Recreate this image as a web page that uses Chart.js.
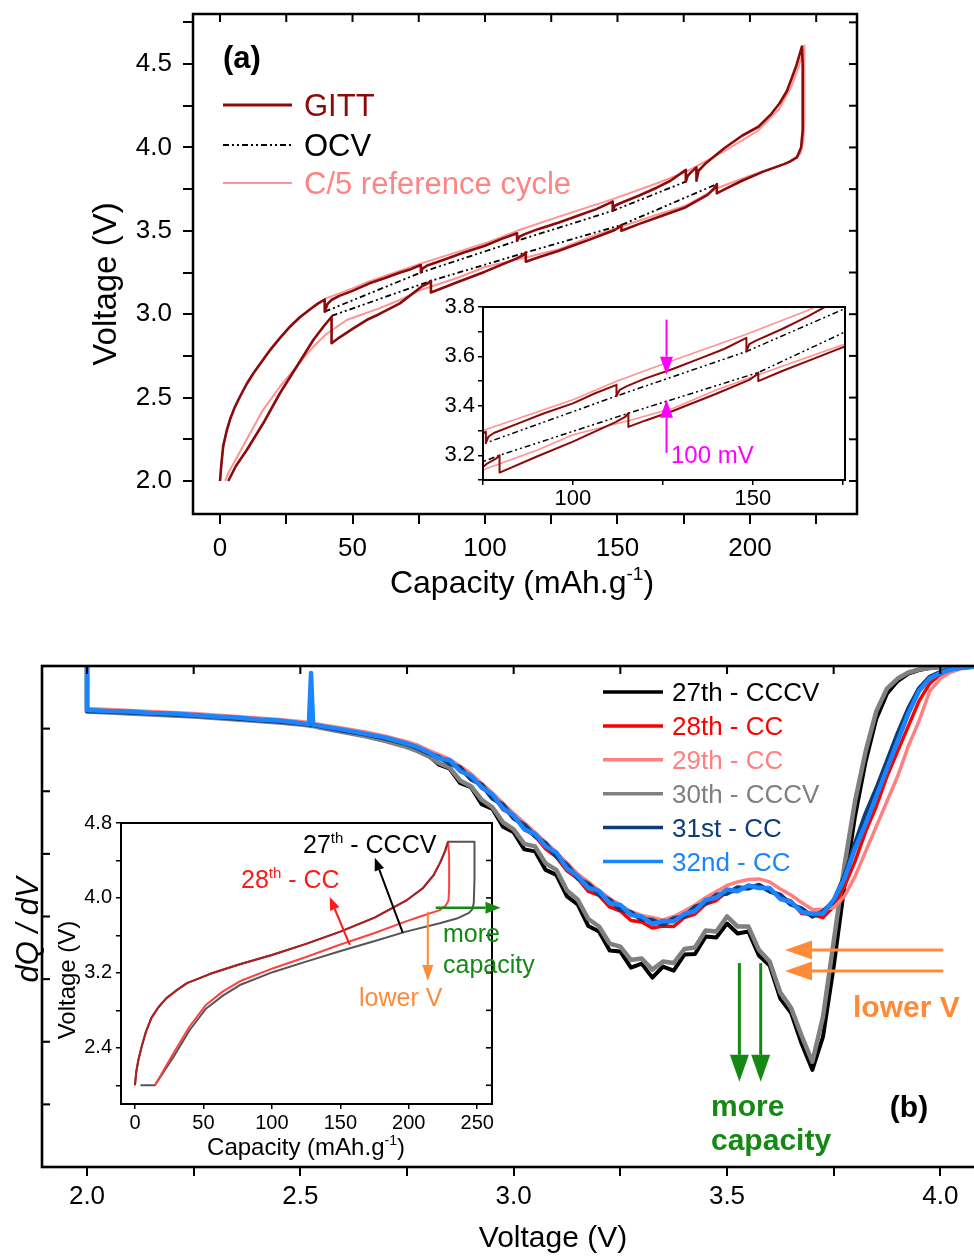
<!DOCTYPE html>
<html>
<head>
<meta charset="utf-8">
<title>GITT and dQ/dV</title>
<script src="https://cdn.jsdelivr.net/npm/chart.js@4.4.1/dist/chart.umd.min.js"></script>
<style>
  html, body { margin: 0; padding: 0; background: #fff; overflow: hidden; }
  #page { position: relative; width: 974px; height: 1256px; overflow: hidden; background: #fff; }
  canvas { position: absolute; left: 0; top: 0; }
</style>
</head>
<body>
<div id="page">
  <canvas id="gittMain" width="974" height="620"></canvas>
  <canvas id="gittZoom" width="974" height="620"></canvas>
  <canvas id="dqdvMain" width="1000" height="1256"></canvas>
  <canvas id="dqdvInset" width="1000" height="1256"></canvas>
</div>
<script>
// ---------- panel (a): GITT, OCV and C/5 voltage profiles ----------
const gittCap = [
  0, 0.5, 1.2, 2.5, 3.8, 5.5, 7.5, 10, 12.6, 15.5, 18.9, 22.5, 26.4, 30, 34, 37, 39.5,
  39.5, 40.5, 42, 45, 50, 56.4, 62, 68, 72, 75.8,
  75.8, 76.5, 78, 85, 92, 100, 106, 112.1,
  112.1, 113, 115, 120, 127.9, 135, 142, 148.2,
  148.2, 149, 151, 158, 165, 170, 175.8,
  175.8, 176.5, 178, 179.8,
  179.8, 180.6, 183, 190.3, 197, 203.2, 208, 211.2, 214, 216, 217.5, 218.5, 219.6,
  219.9, 220, 219.8, 219.3, 217.7, 215, 212.9, 205, 197, 190, 187.5,
  187.5, 186.5, 184, 175.6, 165, 158, 151.5,
  151.5, 150.5, 149, 140, 127.9, 120, 115.4,
  115.4, 114.5, 112, 100, 90, 79.6,
  79.6, 78.5, 76, 67.9, 60, 55.3, 50.3, 45, 42.1,
  42.1, 39, 35.2, 28.9, 22.6, 16.3, 10.1, 6, 3.1
];
const gittV = [
  2.0, 2.1, 2.21, 2.3, 2.37, 2.44, 2.505, 2.58, 2.646, 2.71, 2.785, 2.855, 2.925, 2.98, 3.03, 3.065, 3.088,
  3.015, 3.06, 3.085, 3.11, 3.14, 3.185, 3.215, 3.25, 3.27, 3.295,
  3.25, 3.275, 3.29, 3.33, 3.37, 3.41, 3.45, 3.485,
  3.44, 3.465, 3.48, 3.51, 3.55, 3.59, 3.63, 3.675,
  3.62, 3.65, 3.665, 3.71, 3.76, 3.80, 3.865,
  3.795, 3.83, 3.855, 3.88,
  3.80, 3.86, 3.90, 3.995, 4.07, 4.124, 4.2, 4.265, 4.34, 4.425, 4.49, 4.545, 4.605,
  4.5, 4.3, 4.1, 4.0, 3.94, 3.915, 3.90, 3.855, 3.80, 3.745, 3.725,
  3.78, 3.755, 3.715, 3.64, 3.58, 3.54, 3.50,
  3.535, 3.52, 3.505, 3.45, 3.38, 3.34, 3.315,
  3.37, 3.355, 3.335, 3.255, 3.195, 3.13,
  3.20, 3.185, 3.165, 3.065, 3.0, 2.965, 2.915, 2.86, 2.826,
  2.985, 2.925, 2.845, 2.685, 2.526, 2.346, 2.186, 2.09, 2.0
];
const c5Cap = [
  0, 0.6, 1.4, 2.6, 4, 5.8, 7.8, 10.3, 13, 16, 19.3, 23, 27, 31, 35, 40, 45, 50, 56, 65,
  76, 90, 100, 112.1, 127.9, 148.2, 165, 176, 190, 203, 211, 215.5, 218.3, 219.8, 220.4,
  220.6, 220.5, 220.2, 219, 216, 210, 200, 190, 187.5, 175.6, 163.8, 151.5, 140, 127.9, 115.4,
  100, 90, 76, 67.9, 60, 47.8, 40, 35.2, 28, 22.6, 16, 10.1, 6, 3.5, 1.9
];
const c5V = [
  2.0, 2.12, 2.22, 2.31, 2.38, 2.45, 2.515, 2.59, 2.655, 2.72, 2.795, 2.865, 2.935, 2.99, 3.04, 3.095, 3.125, 3.155, 3.195, 3.245,
  3.305, 3.375, 3.425, 3.5, 3.585, 3.69, 3.785, 3.855, 3.975, 4.1, 4.23, 4.36, 4.48, 4.56, 4.61,
  4.4, 4.15, 4.04, 3.96, 3.92, 3.885, 3.83, 3.77, 3.755, 3.65, 3.59, 3.526, 3.465, 3.39, 3.34,
  3.283, 3.22, 3.147, 3.085, 3.035, 2.965, 2.88, 2.805, 2.67, 2.565, 2.42, 2.25, 2.13, 2.06, 2.0
];
const ocvChargeCap = [39.5, 75.8, 112.1, 148.2, 175.8];
const ocvChargeV = [3.015, 3.25, 3.44, 3.62, 3.795];
const ocvDischargeCap = [42.1, 79.6, 115.4, 151.5, 187.5];
const ocvDischargeV = [2.99, 3.20, 3.37, 3.535, 3.78];

const capTicksA = [0, 25, 50, 75, 100, 125, 150, 175, 200, 225];
const capLabelsA = [0, 50, 100, 150, 200];
const voltTicksA = [2.0, 2.25, 2.5, 2.75, 3.0, 3.25, 3.5, 3.75, 4.0, 4.25, 4.5, 4.75];
const voltLabelsA = [2.0, 2.5, 3.0, 3.5, 4.0, 4.5];
const zoomCapTicks = [75, 100, 125, 150, 175];
const zoomCapLabels = [100, 150];
const zoomVoltTicks = [3.1, 3.2, 3.3, 3.4, 3.5, 3.6, 3.7, 3.8];
const zoomVoltLabels = [3.2, 3.4, 3.6, 3.8];

// ---------- panel (b): dQ/dV of cycles 27 to 32 ----------
const dqdvVolts = [
  2.0, 2.0, 2.05, 2.1, 2.15, 2.2, 2.25, 2.3, 2.35, 2.4, 2.45, 2.5, 2.52, 2.525, 2.53, 2.55, 2.6, 2.65, 2.7, 2.75, 2.775,
  2.8, 2.825, 2.85, 2.875, 2.9, 2.925, 2.95, 2.975,
  3.0, 3.025, 3.05, 3.075, 3.1, 3.125, 3.15, 3.175,
  3.2, 3.225, 3.25, 3.275, 3.3, 3.325, 3.35, 3.375,
  3.4, 3.425, 3.45, 3.475, 3.5, 3.525, 3.55, 3.575,
  3.6, 3.625, 3.65, 3.675, 3.7, 3.725, 3.75, 3.775,
  3.8, 3.825, 3.85, 3.875, 3.9, 3.925, 3.95, 3.975,
  4.0, 4.025, 4.05, 4.1
];
const dqdv27 = [
  104, 91.0, 90.8, 90.6, 90.4, 90.2, 90.0, 89.7, 89.4, 89.1, 88.8, 88.4, 88.2, 88.1, 88.1, 87.7, 86.9, 86.1, 85.2, 84.0, 83.2,
  82.2, 80.3, 79.5, 76.6, 75.8, 72.4, 71.5, 67.9,
  66.8, 63.4, 63.0, 59.3, 58.3, 54.0, 52.4, 48.1,
  47.0, 43.2, 43.0, 39.8, 40.6, 37.8, 40.0, 39.2,
  42.4, 42.5, 46.0, 45.8, 48.6, 46.6, 47.0, 42.2,
  40.2, 33.6, 30.8, 24.6, 19.4, 26.0, 40.0, 56.0,
  70.0, 81.0, 89.5, 94.5, 97.0, 98.5, 99.2, 99.6,
  99.8, 99.9, 100, 100
];
const dqdv28 = [
  104, 91.3, 91.1, 90.9, 90.7, 90.5, 90.3, 90.0, 89.7, 89.4, 89.1, 88.7, 88.5, 88.4, 88.4, 88.1, 87.4, 86.7, 85.8, 84.7, 84.0,
  83.0, 81.9, 81.2, 79.3, 78.3, 75.6, 74.4, 71.3,
  70.3, 67.4, 66.1, 63.5, 61.9, 59.1, 57.6, 55.0,
  54.2, 51.9, 51.1, 49.2, 48.9, 47.7, 48.1, 48.0,
  49.8, 50.5, 52.5, 53.2, 55.0, 55.0, 56.2, 55.7,
  55.6, 53.7, 53.1, 50.6, 50.4, 49.8, 52.0, 56.0,
  61.0, 67.0, 72.0, 78.0, 83.0, 88.0, 93.0, 96.5,
  98.3, 99.2, 99.6, 100
];
const dqdv29 = [
  104, 91.5, 91.3, 91.1, 90.9, 90.7, 90.5, 90.2, 89.9, 89.6, 89.3, 88.9, 88.7, 88.6, 88.6, 88.3, 87.6, 86.9, 86.0, 84.9, 84.2,
  83.2, 82.3, 81.4, 80.0, 78.5, 76.6, 74.7, 72.6,
  70.6, 68.7, 66.8, 64.8, 62.8, 60.7, 58.5, 56.9,
  55.2, 53.6, 52.3, 51.0, 50.2, 49.8, 49.3, 50.0,
  51.1, 52.3, 53.8, 55.0, 56.2, 56.9, 57.4, 57.5,
  56.9, 55.5, 54.3, 52.8, 51.4, 51.4, 51.8, 54.0,
  58.0, 63.0, 68.0, 73.0, 78.0, 84.0, 89.0, 95.0,
  97.5, 98.8, 99.5, 100
];
const dqdv30 = [
  104, 90.9, 90.7, 90.5, 90.3, 90.1, 89.9, 89.6, 89.3, 89.0, 88.7, 88.3, 88.1, 88.0, 88.0, 87.6, 86.8, 86.0, 85.0, 83.8, 83.0,
  82.0, 80.6, 79.7, 77.1, 76.0, 73.3, 71.8, 68.8,
  67.4, 64.5, 64.0, 60.6, 59.3, 55.2, 53.4, 49.5,
  48.0, 44.6, 44.0, 41.3, 41.6, 39.4, 41.0, 40.7,
  43.5, 43.8, 47.2, 47.0, 50.0, 48.0, 48.0, 43.3,
  41.0, 34.8, 31.8, 26.2, 21.0, 30.0, 45.0, 60.0,
  73.0, 83.0, 91.0, 95.5, 97.5, 98.7, 99.3, 99.6,
  99.8, 99.9, 100, 100
];
const dqdv31 = [
  104, 91.0, 90.9, 90.7, 90.5, 90.3, 90.1, 89.8, 89.5, 89.2, 88.9, 88.5, 88.3, 88.2, 88.2, 87.9, 87.1, 86.4, 85.5, 84.4, 83.6,
  82.6, 81.8, 80.5, 79.7, 77.4, 76.3, 73.6, 72.3,
  69.6, 68.3, 66.0, 64.6, 62.0, 60.3, 57.6, 56.5,
  54.4, 53.3, 51.4, 50.8, 49.4, 49.3, 48.4, 49.6,
  50.0, 51.9, 52.6, 54.3, 54.6, 55.8, 55.6, 56.3,
  55.0, 54.3, 52.4, 51.6, 50.0, 51.0, 53.0, 58.0,
  64.5, 70.5, 75.5, 81.0, 86.5, 91.5, 95.5, 97.8,
  98.8, 99.4, 99.7, 100
];
const dqdv32 = [
  104, 91.2, 91.0, 90.9, 90.6, 90.5, 90.2, 89.9, 89.7, 89.3, 89.1, 88.6, 88.4, 98.6, 88.3, 88.0, 87.3, 86.5, 85.7, 84.5, 83.8,
  82.8, 81.6, 81.2, 79.0, 78.1, 75.8, 74.4, 71.6,
  70.2, 67.4, 66.5, 64.0, 62.8, 59.6, 58.1, 55.7,
  55.1, 52.7, 52.3, 50.3, 50.0, 48.5, 49.1, 49.0,
  50.5, 51.1, 53.3, 53.8, 55.4, 55.1, 56.2, 55.7,
  55.7, 53.5, 52.9, 50.9, 50.6, 50.6, 53.3, 57.5,
  63.5, 68.5, 74.0, 79.5, 85.0, 90.5, 95.0, 97.5,
  98.6, 99.3, 99.7, 100
];
const dqdvVoltTicks = [2.0, 2.25, 2.5, 2.75, 3.0, 3.25, 3.5, 3.75, 4.0];
const dqdvVoltLabels = [2.0, 2.5, 3.0, 3.5, 4.0];
const dqdvTicks = [0, 12.5, 25, 37.5, 50, 62.5, 75, 87.5, 100];

// inset (b): cycle 27 (CCCV) vs cycle 28 (CC)
const chargeCap = [0, 1, 2.5, 5, 8, 12, 17, 23, 30, 38, 45, 55, 76, 100, 125, 150, 175, 198, 210, 218, 223, 226.5, 228.7];
const chargeV = [2.0, 2.15, 2.27, 2.42, 2.57, 2.72, 2.83, 2.93, 3.01, 3.09, 3.13, 3.19, 3.29, 3.39, 3.51, 3.64, 3.79, 3.97, 4.10, 4.24, 4.38, 4.5, 4.6];
const cccvTailCap = [232, 248, 248, 247.5, 246.5, 244, 235, 222.6, 198, 174, 149.6, 125, 101, 76.6, 64.5, 52, 40, 28, 14.6, 4];
const cccvTailV = [4.6, 4.6, 4.2, 3.95, 3.88, 3.84, 3.78, 3.73, 3.64, 3.535, 3.43, 3.32, 3.21, 3.07, 2.96, 2.82, 2.59, 2.30, 2.0, 2.0];
const ccTailCap = [228.7, 229.5, 229.5, 229, 227, 222.6, 210, 198, 174, 149.6, 125, 101, 76.6, 64, 52, 40, 28, 14.6];
const ccTailV = [4.6, 4.45, 4.1, 3.97, 3.92, 3.87, 3.81, 3.75, 3.62, 3.50, 3.37, 3.25, 3.11, 3.0, 2.86, 2.63, 2.34, 2.0];
const insetCapTicks = [0, 50, 100, 150, 200, 250];
const insetVoltTicks = [2.0, 2.4, 2.8, 3.2, 3.6, 4.0, 4.4, 4.8];
const insetVoltLabels = [2.4, 3.2, 4.0, 4.8];

// ---------- colours and fonts ----------
const SANS = '"Liberation Sans", Arial, Helvetica, sans-serif';
const GITT_RED = '#8b0a0a';
const C5_PINK = '#ff9494';
const C5_TEXT = '#ff8585';
const OCV_DASH = [6, 3, 2, 3, 2, 3];
const MAGENTA = '#ff00ff';
const ORANGE = '#ff8a38';
const GREEN = '#148a14';
const CYCLE_COLORS = ['#000000', '#ff0000', '#ff8080', '#808080', '#0b3d7a', '#1a85ff'];

function fnt(size, style) { return (style ? style + ' ' : '') + size + 'px ' + SANS; }

// text pieces: [string, isSuperscript]
function rich(ctx, parts, x, y, size, color, align, style) {
  const sup = Math.round(size * 0.6);
  let w = 0;
  parts.forEach(p => { ctx.font = fnt(p[1] ? sup : size, style); w += ctx.measureText(p[0]).width; });
  let cx = align === 'center' ? x - w / 2 : (align === 'right' ? x - w : x);
  ctx.save();
  ctx.fillStyle = color;
  ctx.textAlign = 'left';
  ctx.textBaseline = 'alphabetic';
  parts.forEach(p => {
    ctx.font = fnt(p[1] ? sup : size, style);
    ctx.fillText(p[0], cx, p[1] ? y - size * 0.42 : y);
    cx += ctx.measureText(p[0]).width;
  });
  ctx.restore();
}

function vtext(ctx, parts, x, y, size, color, style) {
  ctx.save();
  ctx.translate(x, y);
  ctx.rotate(-Math.PI / 2);
  rich(ctx, parts, 0, 0, size, color, 'center', style);
  ctx.restore();
}

function arrow(ctx, x1, y1, x2, y2, color, lw, headLen, headW) {
  const ang = Math.atan2(y2 - y1, x2 - x1);
  const bx = x2 - headLen * Math.cos(ang), by = y2 - headLen * Math.sin(ang);
  const nx = Math.sin(ang) * headW / 2, ny = Math.cos(ang) * headW / 2;
  ctx.save();
  ctx.strokeStyle = color;
  ctx.fillStyle = color;
  ctx.lineWidth = lw;
  ctx.beginPath(); ctx.moveTo(x1, y1); ctx.lineTo(bx, by); ctx.stroke();
  ctx.beginPath();
  ctx.moveTo(x2, y2);
  ctx.lineTo(bx + nx, by - ny);
  ctx.lineTo(bx - nx, by + ny);
  ctx.closePath();
  ctx.fill();
  ctx.restore();
}

function legendLine(ctx, x1, x2, y, color, lw, dash) {
  ctx.save();
  ctx.strokeStyle = color;
  ctx.lineWidth = lw;
  ctx.setLineDash(dash || []);
  ctx.beginPath(); ctx.moveTo(x1, y); ctx.lineTo(x2, y); ctx.stroke();
  ctx.restore();
}

function pts(xs, ys) { return xs.map((x, i) => ({ x: x, y: ys[i] })); }

function series(label, xs, ys, color, width, extra) {
  return Object.assign({
    label: label, data: pts(xs, ys), borderColor: color, borderWidth: width,
    pointRadius: 0, fill: false, tension: 0, borderJoinStyle: 'round'
  }, extra || {});
}

// box around the plot area plus inward tick marks on the given edges
function frame(width, inward) {
  return {
    id: 'frame',
    afterDatasetsDraw(chart) {
      const ctx = chart.ctx, a = chart.chartArea;
      ctx.save();
      ctx.strokeStyle = '#000';
      ctx.lineWidth = width;
      ctx.strokeRect(a.left, a.top, a.right - a.left, a.bottom - a.top);
      ctx.lineWidth = Math.max(1.5, width * 0.8);
      inward.forEach(([axis, edge, len]) => {
        const s = chart.scales[axis];
        s.ticks.forEach(t => {
          const p = s.getPixelForValue(t.value);
          ctx.beginPath();
          if (edge === 'top') { ctx.moveTo(p, a.top); ctx.lineTo(p, a.top + len); }
          if (edge === 'bottom') { ctx.moveTo(p, a.bottom); ctx.lineTo(p, a.bottom - len); }
          if (edge === 'left') { ctx.moveTo(a.left, p); ctx.lineTo(a.left + len, p); }
          if (edge === 'right') { ctx.moveTo(a.right, p); ctx.lineTo(a.right - len, p); }
          ctx.stroke();
        });
      });
      ctx.restore();
    }
  };
}

function notes(fn) {
  return { id: 'notes', afterDraw(chart) { fn(chart.ctx, chart.scales.x, chart.scales.y, chart); } };
}

// fixed scale size, and no extra room reserved for end labels
function fixWidth(w) { return s => { s.width = w; s.paddingTop = 0; s.paddingBottom = 0; }; }
function fixHeight(h) { return s => { s.height = h; s.paddingLeft = 0; s.paddingRight = 0; }; }

// linear axis with fixed tick list; only values in `labels` get text
function axis(min, max, tickList, labels, fmt, o) {
  return {
    type: 'linear', min: min, max: max,
    afterBuildTicks: s => { s.ticks = tickList.map(v => ({ value: v })); },
    afterFit: o.fit,
    border: { display: false },
    grid: { display: o.marks !== false, drawOnChartArea: false, drawTicks: true,
            tickLength: o.tl || 8, color: '#000', lineWidth: o.tw || 2 },
    ticks: {
      display: o.text !== false, autoSkip: false, maxRotation: 0, minRotation: 0,
      padding: o.pad || 0, color: '#000', font: { family: SANS, size: o.size || 20 },
      callback: v => (labels.indexOf(v) >= 0 ? fmt(v) : '')
    }
  };
}

const baseOpts = {
  responsive: false, animation: false, devicePixelRatio: 1,
  events: [],
  plugins: { legend: { display: false }, tooltip: { enabled: false } }
};
const oneDec = v => v.toFixed(1);
const whole = v => String(v);

// ---------- (a) main ----------
new Chart(document.getElementById('gittMain'), {
  type: 'line',
  data: { datasets: [
    series('GITT', gittCap, gittV, GITT_RED, 2.6),
    series('OCV', ocvChargeCap, ocvChargeV, '#000', 1.8, { borderDash: OCV_DASH }),
    series('OCV', ocvDischargeCap, ocvDischargeV, '#000', 1.8, { borderDash: OCV_DASH }),
    series('C/5 reference cycle', c5Cap, c5V, C5_PINK, 2)
  ]},
  options: Object.assign({}, baseOpts, {
    layout: { padding: { top: 14, right: 117, left: 0, bottom: 0 } },
    scales: {
      x: axis(-10.2, 240.4, capTicksA, capLabelsA, whole, { size: 26, tl: 10, pad: 9, fit: fixHeight(106) }),
      y: axis(1.802, 4.8, voltTicksA, voltLabelsA, oneDec, { size: 26, tl: 10, pad: 11, fit: fixWidth(193) })
    }
  }),
  plugins: [
    frame(2.5, [['x', 'top', 8], ['y', 'right', 8]]),
    notes(ctx => {
      rich(ctx, [['(a)']], 223, 68, 31, '#000', 'left', 'bold');
      legendLine(ctx, 223, 292, 105, GITT_RED, 3);
      legendLine(ctx, 223, 292, 145, '#000', 2, OCV_DASH);
      legendLine(ctx, 223, 292, 183, C5_PINK, 2);
      rich(ctx, [['GITT']], 304, 116, 31, GITT_RED, 'left');
      rich(ctx, [['OCV']], 304, 156, 31, '#000', 'left');
      rich(ctx, [['C/5 reference cycle']], 304, 194, 31, C5_TEXT, 'left');
      vtext(ctx, [['Voltage (V)']], 116, 284, 33, '#000');
      rich(ctx, [['Capacity (mAh.g'], ['-1', true], [')']], 522, 593, 32, '#000', 'center');
    })
  ]
});

// ---------- (a) zoomed inset ----------
new Chart(document.getElementById('gittZoom'), {
  type: 'line',
  data: { datasets: [
    series('GITT', gittCap, gittV, GITT_RED, 2),
    series('OCV', ocvChargeCap, ocvChargeV, '#000', 1.5, { borderDash: OCV_DASH }),
    series('OCV', ocvDischargeCap, ocvDischargeV, '#000', 1.5, { borderDash: OCV_DASH }),
    series('C/5 reference cycle', c5Cap, c5V, C5_PINK, 1.6)
  ]},
  options: Object.assign({}, baseOpts, {
    layout: { padding: { top: 307, right: 129, left: 0, bottom: 0 } },
    scales: {
      x: axis(75, 175.6, zoomCapTicks, zoomCapLabels, whole, { size: 22, tl: 5, pad: 1, tw: 1.5, fit: fixHeight(140) }),
      y: axis(3.1, 3.8, zoomVoltTicks, zoomVoltLabels, oneDec, { size: 22, tl: 5, pad: 3, tw: 1.5, fit: fixWidth(483) })
    }
  }),
  plugins: [
    frame(2, []),
    notes((ctx, x, y) => {
      arrow(ctx, x.getPixelForValue(126), y.getPixelForValue(3.749), x.getPixelForValue(126), y.getPixelForValue(3.526), MAGENTA, 2, 18, 13);
      arrow(ctx, x.getPixelForValue(126), y.getPixelForValue(3.21), x.getPixelForValue(126), y.getPixelForValue(3.425), MAGENTA, 2, 18, 13);
      rich(ctx, [['100 mV']], 671, 463, 24, MAGENTA, 'left');
    })
  ]
});

// ---------- (b) main dQ/dV ----------
const cycleNames = ['27th - CCCV', '28th - CC', '29th - CC', '30th - CCCV', '31st - CC', '32nd - CC'];
const cycleData = [dqdv27, dqdv28, dqdv29, dqdv30, dqdv31, dqdv32];
const drawOrder = [5, 3, 2, 4, 1, 0];
const cycleWidths = [4, 3.5, 3.5, 4.5, 4.5, 4.5];

new Chart(document.getElementById('dqdvMain'), {
  type: 'line',
  data: { datasets: cycleData.map((ys, i) =>
    series(cycleNames[i], dqdvVolts, ys, CYCLE_COLORS[i], cycleWidths[i], { order: drawOrder[i] })) },
  options: Object.assign({}, baseOpts, {
    layout: { padding: { top: 666, right: 17, left: 0, bottom: 0 } },
    scales: {
      x: axis(1.8945, 4.1, dqdvVoltTicks, dqdvVoltLabels, oneDec, { size: 26, tl: 9, pad: 5, fit: fixHeight(89) }),
      y: axis(0, 100, dqdvTicks, [], whole, { marks: false, text: false, fit: fixWidth(42) })
    }
  }),
  plugins: [
    frame(2.6, [['x', 'top', 8], ['y', 'left', 8]]),
    notes((ctx, x, y, chart) => {
      chart.data.datasets.forEach((d, i) => {
        const ly = 692 + i * 33.9;
        legendLine(ctx, 603, 663, ly, d.borderColor, 3.5);
        rich(ctx, [[d.label]], 672, ly + 9.3, 26, d.borderColor, 'left');
      });
      [43.3, 39.1].forEach(v =>
        arrow(ctx, x.getPixelForValue(4.007), y.getPixelForValue(v), x.getPixelForValue(3.636), y.getPixelForValue(v), ORANGE, 3, 27, 19));
      [3.529, 3.579].forEach(v =>
        arrow(ctx, x.getPixelForValue(v), y.getPixelForValue(40.7), x.getPixelForValue(v), y.getPixelForValue(17.0), GREEN, 3, 27, 19));
      rich(ctx, [['lower V']], 853, 1017, 30, ORANGE, 'left', 'bold');
      rich(ctx, [['more']], 711, 1116, 30, GREEN, 'left', 'bold');
      rich(ctx, [['capacity']], 711, 1150, 30, GREEN, 'left', 'bold');
      rich(ctx, [['(b)']], 909, 1117, 30, '#000', 'center', 'bold');
      vtext(ctx, [['dQ / dV']], 38, 930, 31, '#000', 'italic');
      rich(ctx, [['Voltage (V)']], 553, 1247, 30, '#000', 'center');
    })
  ]
});

// ---------- (b) inset: voltage profiles of cycles 27 and 28 ----------
new Chart(document.getElementById('dqdvInset'), {
  type: 'line',
  data: { datasets: [
    series('28th - CC charge', chargeCap, chargeV, '#b01e1e', 2),
    series('28th - CC discharge', ccTailCap, ccTailV, '#ff4040', 2),
    series('27th - CCCV', chargeCap.concat(cccvTailCap), chargeV.concat(cccvTailV), '#555555', 2)
  ]},
  options: Object.assign({}, baseOpts, {
    layout: { padding: { top: 823, right: 508, left: 0, bottom: 0 } },
    scales: {
      x: axis(-10.2, 260.8, insetCapTicks, insetCapTicks, whole, { size: 20, tl: 5, pad: 2, tw: 1.5, fit: fixHeight(152) }),
      y: axis(1.8, 4.8, insetVoltTicks, insetVoltLabels, oneDec, { size: 20, tl: 5, pad: 4, tw: 1.5, fit: fixWidth(121) })
    }
  }),
  plugins: [
    frame(2, [['y', 'right', 6]]),
    notes((ctx, x, y) => {
      const px = v => x.getPixelForValue(v), py = v => y.getPixelForValue(v);
      arrow(ctx, px(156.9), py(3.50), px(142.3), py(4.01), '#ff1a1a', 2, 13, 10);
      arrow(ctx, px(195.6), py(3.63), px(175.2), py(4.43), '#000', 2, 13, 10);
      arrow(ctx, px(219.7), py(3.896), px(267), py(3.896), GREEN, 2.5, 15, 12);
      arrow(ctx, px(213.9), py(3.853), px(213.9), py(3.114), ORANGE, 2, 16, 11);
      rich(ctx, [['27'], ['th', true], [' - CCCV']], 303, 853, 25, '#000', 'left');
      rich(ctx, [['28'], ['th', true], [' - CC']], 241, 888, 25, '#ff1a1a', 'left');
      rich(ctx, [['more']], 443, 942, 25, GREEN, 'left');
      rich(ctx, [['capacity']], 443, 973, 25, GREEN, 'left');
      rich(ctx, [['lower V']], 359, 1006, 25, ORANGE, 'left');
      vtext(ctx, [['Voltage (V)']], 75, 980, 24, '#000');
      rich(ctx, [['Capacity (mAh.g'], ['-1', true], [')']], 306, 1155, 24, '#000', 'center');
    })
  ]
});
</script>
</body>
</html>
